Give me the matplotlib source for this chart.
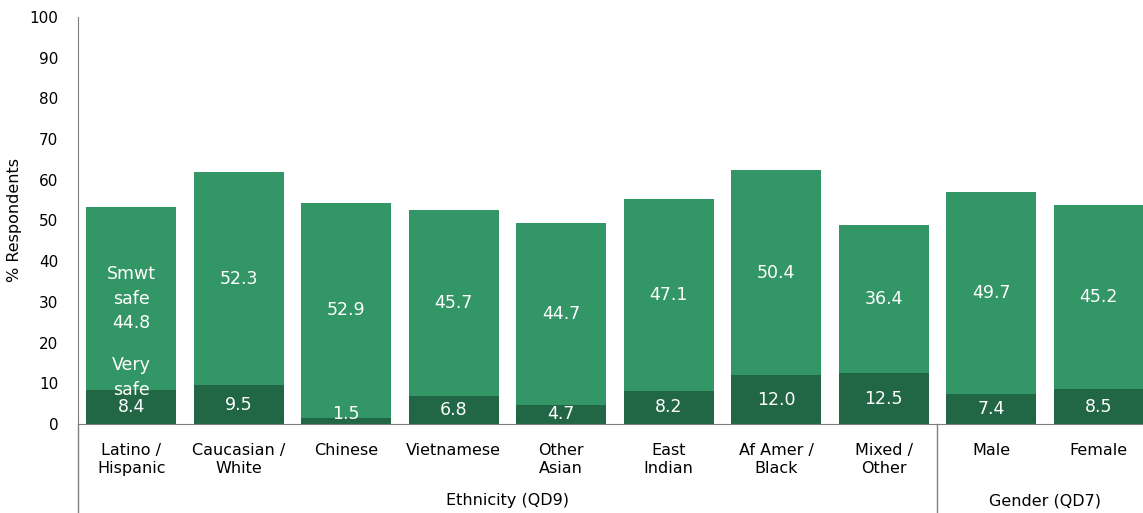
import matplotlib.pyplot as plt
import matplotlib.transforms as mtransforms

categories = ['Latino /\nHispanic', 'Caucasian /\nWhite', 'Chinese', 'Vietnamese',
              'Other\nAsian', 'East\nIndian', 'Af Amer /\nBlack', 'Mixed /\nOther',
              'Male', 'Female']
very_safe = [8.4, 9.5, 1.5, 6.8, 4.7, 8.2, 12.0, 12.5, 7.4, 8.5]
smwt_safe = [44.8, 52.3, 52.9, 45.7, 44.7, 47.1, 50.4, 36.4, 49.7, 45.2]
group_names = ['Ethnicity (QD9)', 'Gender (QD7)']
group_spans = [(0, 7), (8, 9)]

dark = '#216645'
light = '#339666'
axis_col = '#7f7f7f'

plt.rcParams['font.family'] = 'DejaVu Sans'

fig = plt.figure(figsize=(11.43, 5.13), dpi=100)
ax = fig.add_axes([0.068, 0.1735, 0.932, 0.7935])

x = list(range(len(categories)))
w = 0.837
ax.bar(x, very_safe, width=w, color=dark)
ax.bar(x, smwt_safe, width=w, bottom=very_safe, color=light)

# value labels inside each segment
for i in x:
    lo = very_safe[i]
    hi = smwt_safe[i]
    yb = max(lo / 2, 2.4)
    ax.text(i, yb, f'{lo:.1f}', ha='center', va='center', color='white', fontsize=12.5)
    top_txt = f'{hi:.1f}'
    if i == 0:
        top_txt = 'Smwt\nsafe\n' + top_txt
        ax.annotate('Very\nsafe', (i, yb), xytext=(0, 6), textcoords='offset points',
                    ha='center', va='bottom', color='white', fontsize=12.5,
                    linespacing=1.45)
    ax.text(i, lo + hi / 2, top_txt, ha='center', va='center', color='white',
            fontsize=12.5, linespacing=1.45)

ax.set_xlim(-0.5, 9.414)
ax.set_ylim(0, 100)
ax.set_yticks(range(0, 101, 10))
ax.tick_params(axis='y', length=0, pad=14, labelsize=11)
ax.tick_params(axis='x', length=0, pad=14, labelsize=11.5)
ax.set_xticks(x)
ax.set_xticklabels(categories, linespacing=1.25)
ax.set_ylabel('% Respondents', fontsize=11.5, labelpad=5)

for s in ['top', 'right']:
    ax.spines[s].set_visible(False)
ax.spines['left'].set_color(axis_col)
ax.spines['bottom'].set_color(axis_col)

# group separators and group titles under the category labels
trans = mtransforms.blended_transform_factory(ax.transData, ax.transAxes)
for name, (a, b) in zip(group_names, group_spans):
    ax.plot([a - 0.5, a - 0.5], [0, -0.22], transform=trans, color=axis_col,
            lw=1, clip_on=False)
    ax.text((a + b) / 2, -0.188, name, transform=trans, ha='center', va='center',
            fontsize=11.5)

fig.savefig('out.png', dpi=100)
